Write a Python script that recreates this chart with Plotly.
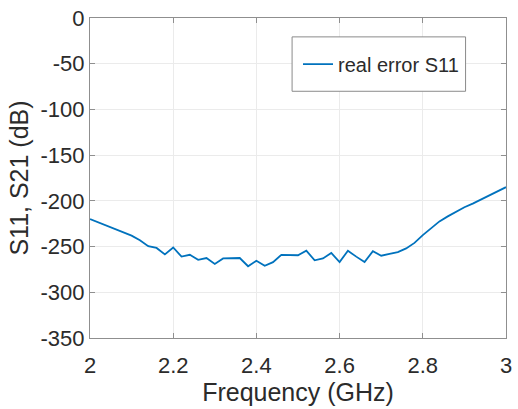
import plotly.graph_objects as go

# Frequency sweep (GHz) and measured residual S11 error (dB)
freq_ghz = [
    2.00, 2.02, 2.04, 2.06, 2.08, 2.10, 2.12, 2.14, 2.16, 2.18,
    2.20, 2.22, 2.24, 2.26, 2.28, 2.30, 2.32, 2.34, 2.36, 2.38,
    2.40, 2.42, 2.44, 2.46, 2.48, 2.50, 2.52, 2.54, 2.56, 2.58,
    2.60, 2.62, 2.64, 2.66, 2.68, 2.70, 2.72, 2.74, 2.76, 2.78,
    2.80, 2.82, 2.84, 2.86, 2.88, 2.90, 2.92, 2.94, 2.96, 2.98,
    3.00,
]
s11_error_db = [
    -220.0, -223.5, -227.0, -231.0, -234.0, -238.0, -243.0, -249.5, -251.5, -258.5,
    -251.0, -261.0, -259.0, -264.5, -262.5, -269.0, -263.0, -262.5, -262.5, -271.5,
    -265.5, -271.0, -267.0, -259.0, -259.5, -259.5, -254.5, -265.0, -263.0, -257.0,
    -267.0, -254.5, -261.0, -267.0, -255.0, -260.0, -258.0, -256.0, -252.0, -246.0,
    -237.5, -229.5, -222.5, -217.0, -212.0, -207.0, -203.0, -198.5, -194.0, -189.5,
    -185.0,
]

x_ticks = [2.0, 2.2, 2.4, 2.6, 2.8, 3.0]
x_tick_text = ["2", "2.2", "2.4", "2.6", "2.8", "3"]
y_ticks = [0, -50, -100, -150, -200, -250, -300, -350]
y_tick_text = ["0", "-50", "-100", "-150", "-200", "-250", "-300", "-350"]

FONT = "Liberation Sans, Arial, Helvetica, sans-serif"
TEXT = "#2b2b2b"
FRAME = "#8f8f8f"
GRID = "#ebebeb"

fig = go.Figure()
fig.add_trace(go.Scatter(
    x=freq_ghz, y=s11_error_db, mode="lines", name="real error S11",
    line=dict(color="#0072BD", width=1.8),
))

axis_common = dict(
    showline=True, linecolor=FRAME, linewidth=1, mirror="ticks",
    ticks="inside", ticklen=5, tickcolor=FRAME, tickwidth=1,
    showgrid=True, gridcolor=GRID, gridwidth=1, zeroline=False,
    tickfont=dict(family=FONT, size=22, color=TEXT),
)

fig.update_xaxes(
    range=[2, 3], tickvals=x_ticks, ticktext=x_tick_text,
    ticklabelstandoff=8,
    title=dict(text="Frequency (GHz)", font=dict(family=FONT, size=25, color=TEXT), standoff=2),
    **axis_common,
)
fig.update_yaxes(
    range=[-350, 0], tickvals=y_ticks, ticktext=y_tick_text,
    title=dict(text="S11, S21 (dB)", font=dict(family=FONT, size=25, color=TEXT), standoff=4),
    **axis_common,
)

# Legend frame
fig.add_shape(type="rect", xref="paper", yref="paper",
              x0=0.4858, x1=0.9028, y0=0.771, y1=0.941,
              line=dict(color="#8a8a8a", width=1), fillcolor="white", layer="above")

fig.update_layout(
    width=518, height=409,
    margin=dict(l=90, r=6, t=15, b=71),
    paper_bgcolor="white", plot_bgcolor="white",
    showlegend=True,
    legend=dict(x=0.5, y=0.856, xanchor="left", yanchor="middle",
                bgcolor="rgba(0,0,0,0)", borderwidth=0,
                font=dict(family=FONT, size=20, color=TEXT)),
)

fig.write_html("out.html")
